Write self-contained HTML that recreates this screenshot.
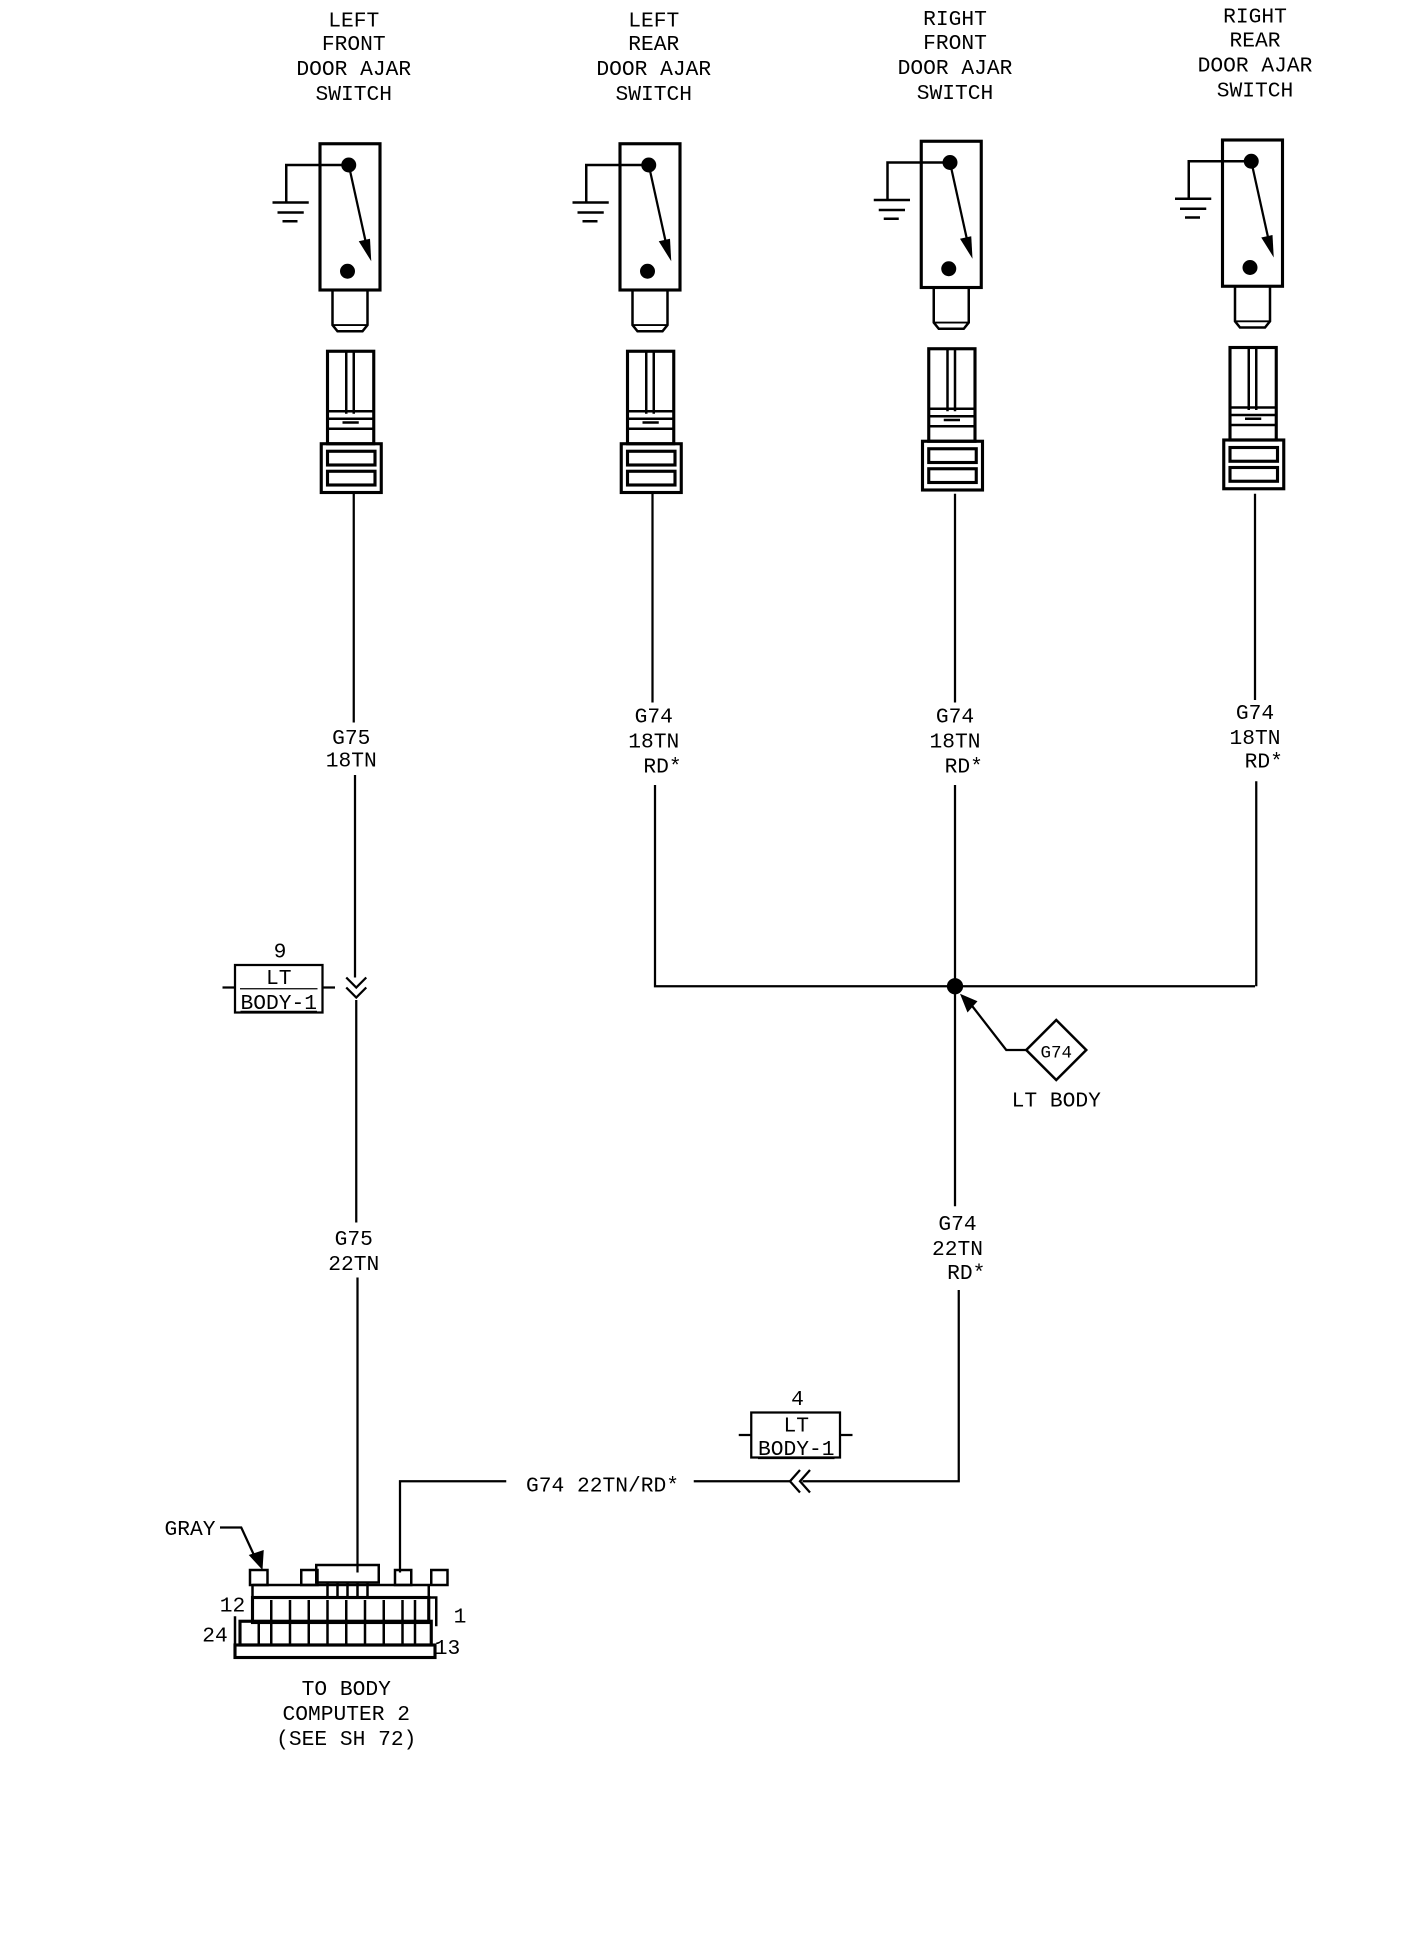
<!DOCTYPE html>
<html><head><meta charset="utf-8"><style>
html,body{margin:0;padding:0;background:#fff;}
svg{display:block;}
text{font-family:"Liberation Mono","DejaVu Sans Mono",monospace;font-size:17px;fill:#000;text-anchor:middle;}
</style></head><body>
<svg width="1424" height="1960" viewBox="0 0 1139.2 1568" xmlns="http://www.w3.org/2000/svg">
<defs>
<g id="sw">
  <!-- switch body centered at x=0, top y=0 -->
  <rect x="-25" y="0" width="48" height="117" fill="none" stroke="#000" stroke-width="2.5"/>
  <circle cx="-2" cy="17" r="6" fill="#000"/>
  <circle cx="-3" cy="102" r="6" fill="#000"/>
  <path d="M-2 17 L13 85" stroke="#000" stroke-width="1.8"/>
  <path d="M6 78 L15 76 L16 94 Z" fill="#000"/>
  <path d="M-2 17 H-52 V47" fill="none" stroke="#000" stroke-width="2"/>
  <path d="M-63 47 H-34 M-59 55 H-38 M-55 62 H-43" stroke="#000" stroke-width="2"/>
  <path d="M-15 117 V145 L-11 150 H9 L13 145 V117" fill="none" stroke="#000" stroke-width="2"/>
  <path d="M-15 145 H13" stroke="#000" stroke-width="1.5"/>
  <!-- connector -->
  <rect x="-19" y="166" width="37" height="74" fill="none" stroke="#000" stroke-width="2.5"/>
  <path d="M-4 166 V216 M2 166 V216 M-19 214 H18 M-19 220 H18 M-7 223 H6 M-19 228 H18" stroke="#000" stroke-width="2"/>
  <rect x="-24" y="240" width="48" height="39" fill="none" stroke="#000" stroke-width="2.5"/>
  <rect x="-19" y="246" width="38" height="11" fill="none" stroke="#000" stroke-width="2.5"/>
  <rect x="-19" y="262" width="38" height="11" fill="none" stroke="#000" stroke-width="2.5"/>
</g>
</defs>

<!-- titles -->
<g>
<text x="283" y="21">LEFT</text><text x="283" y="40">FRONT</text><text x="283" y="60">DOOR AJAR</text><text x="283" y="80">SWITCH</text>
<text x="523" y="21">LEFT</text><text x="523" y="40">REAR</text><text x="523" y="60">DOOR AJAR</text><text x="523" y="80">SWITCH</text>
<text x="764" y="20">RIGHT</text><text x="764" y="39">FRONT</text><text x="764" y="59">DOOR AJAR</text><text x="764" y="79">SWITCH</text>
<text x="1004" y="18">RIGHT</text><text x="1004" y="37">REAR</text><text x="1004" y="57">DOOR AJAR</text><text x="1004" y="77">SWITCH</text>
</g>

<use href="#sw" x="281" y="115"/>
<use href="#sw" x="521" y="115"/>
<use href="#sw" x="762" y="113"/>
<use href="#sw" x="1003" y="112"/>

<g stroke="#000" stroke-width="1.8" fill="none">
  <!-- col1 -->
  <path d="M283 395 V578 M284 620 V782 M285 800 V978 M286 1022 V1258"/>
  <path d="M277 782 L285 790 L293 782 M277 790 L285 798 L293 790"/>
  <path d="M178 790 H188 M258 790 H268"/>
  <rect x="188" y="772" width="70" height="38"/>
  <path d="M192 791 H254" stroke-width="1"/>
  <!-- col2 -->
  <path d="M522 395 V562 M524 628 V789 H1004"/>
  <!-- col3 -->
  <path d="M764 395 V562 M764 628 V965 M767 1032 V1185 H642 M632 1185 H555"/>
  <path d="M640 1176 L632 1185 L640 1194 M648 1176 L640 1185 L648 1194"/>
  <rect x="601" y="1130" width="71" height="36"/>
  <path d="M591 1148 H601 M672 1148 H682"/>
  <!-- col4 -->
  <path d="M1004 395 V560 M1005 625 V789"/>
  <!-- G74 upper line -->
  <path d="M405 1185 H320 V1258"/>
  <!-- diamond -->
  <path d="M845 816 L869 840 L845 864 L821 840 Z" stroke-width="2"/>
  <path d="M821 840 H805 L774 800"/>
  <!-- gray pointer -->
  <path d="M176 1222 H193 L205 1248"/>
</g>
<circle cx="764" cy="789" r="6.5" fill="#000"/>
<path d="M768 795 L782 801 L774 810 Z" fill="#000"/>
<path d="M199 1244 L210 1256 L211 1240 Z" fill="#000"/>

<!-- wire labels -->
<text x="281" y="595">G75</text><text x="281" y="613">18TN</text>
<text x="523" y="578">G74</text><text x="523" y="598">18TN</text><text x="530" y="618">RD*</text>
<text x="764" y="578">G74</text><text x="764" y="598">18TN</text><text x="771" y="618">RD*</text>
<text x="1004" y="575">G74</text><text x="1004" y="595">18TN</text><text x="1011" y="614">RD*</text>
<text x="283" y="996">G75</text><text x="283" y="1016">22TN</text>
<text x="766" y="984">G74</text><text x="766" y="1004">22TN</text><text x="773" y="1023">RD*</text>
<text x="482" y="1193">G74 22TN/RD*</text>
<text x="224" y="766">9</text><text x="223" y="787">LT</text><text x="223" y="807" style="text-decoration:underline">BODY-1</text>
<text x="638" y="1124">4</text><text x="637" y="1145">LT</text><text x="637" y="1164" style="text-decoration:underline">BODY-1</text>
<text x="845" y="846" style="font-size:14px">G74</text>
<text x="845" y="885">LT BODY</text>
<text x="152" y="1228">GRAY</text>

<!-- body computer connector -->
<g stroke="#000" fill="none" stroke-width="2">
  <rect x="253" y="1252" width="50" height="14"/>
  <rect x="200" y="1256" width="14" height="12"/>
  <rect x="241" y="1256" width="13" height="12"/>
  <rect x="316" y="1256" width="13" height="12"/>
  <rect x="345" y="1256" width="13" height="12"/>
  <path d="M202 1268 H343 V1278 M202 1268 V1278"/>
  <path d="M262 1266 V1278 M270 1266 V1278 M278 1266 V1278 M286 1266 V1278 M294 1266 V1278"/>
  <rect x="202" y="1278" width="141" height="20" stroke-width="2.5"/>
  <path d="M343 1278 H349 V1301"/>
  <rect x="192" y="1297" width="153" height="19" stroke-width="2.5"/>
  <rect x="188" y="1316" width="160" height="10" stroke-width="2.5"/>
  <path d="M188 1293 V1316"/>
</g>
<g stroke="#000" stroke-width="2">
  <path d="M217 1280 V1297 M232 1280 V1297 M247 1280 V1297 M262 1280 V1297 M277 1280 V1297 M292 1280 V1297 M307 1280 V1297 M322 1280 V1297 M332 1280 V1297"/>
  <path d="M207 1298 V1315 M217 1298 V1315 M232 1298 V1315 M247 1298 V1315 M262 1298 V1315 M277 1298 V1315 M292 1298 V1315 M307 1298 V1315 M322 1298 V1315 M332 1298 V1315"/>
</g>
<text x="186" y="1289">12</text><text x="172" y="1313">24</text>
<text x="368" y="1298">1</text><text x="358" y="1323">13</text>
<text x="277" y="1356">TO BODY</text><text x="277" y="1376">COMPUTER 2</text><text x="277" y="1396">(SEE SH 72)</text>
</svg>
</body></html>
